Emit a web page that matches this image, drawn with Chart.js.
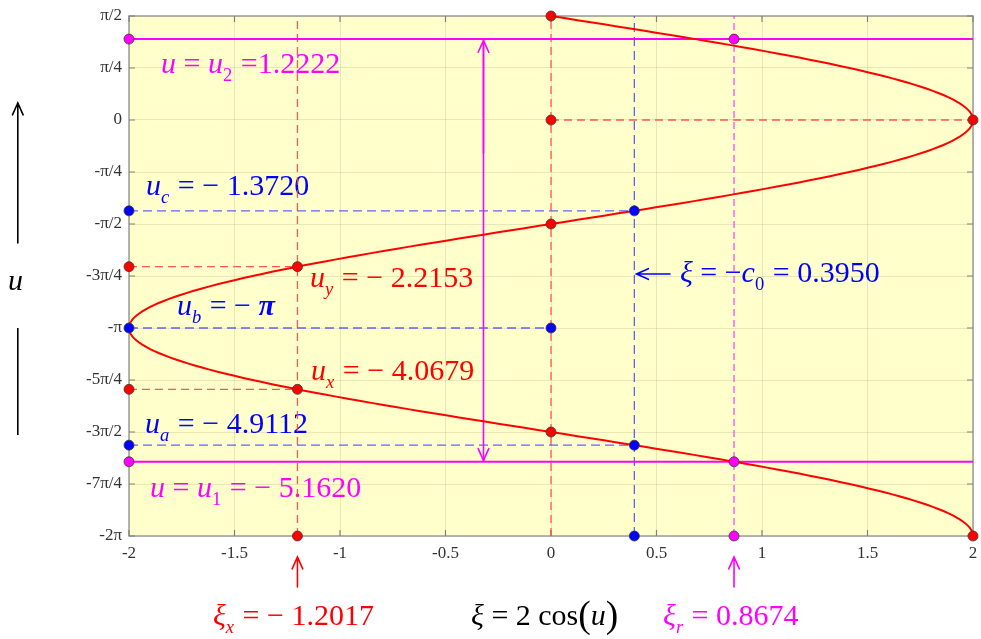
<!DOCTYPE html>
<html>
<head>
<meta charset="utf-8">
<script src="https://cdn.jsdelivr.net/npm/chart.js@4/dist/chart.umd.min.js"></script>
<style>
  html, body { margin: 0; padding: 0; background: #ffffff; }
  #wrap { width: 981px; height: 639px; position: relative; }
</style>
</head>
<body>
<div id="wrap"><canvas id="chart"></canvas></div>
<script>
const PI = Math.PI;

// ---- axis ticks ----
const xTickValues = [-2, -1.5, -1, -0.5, 0, 0.5, 1, 1.5, 2];
const yTickQuarters = [-8, -7, -6, -5, -4, -3, -2, -1, 0, 1, 2];
const yTickLabels = ['-2π', '-7π/4', '-3π/2', '-5π/4', '-π', '-3π/4', '-π/2', '-π/4', '0', 'π/4', 'π/2'];

// ---- key values ----
const xiX = -1.2017;              // ξx
const uY = -2.2153;               // uy
const uX = -4.0679;               // ux
const xiC0 = 0.3950;              // ξ = -c0
const uC = -1.3720;               // uc
const uB = -PI;                   // ub
const uA = -4.9112;               // ua
const xiR = 0.8674;               // ξr
const u2 = 1.2222;                // u2
const u1 = -5.1620;               // u1
const spanArrowXi = -0.32;        // position of the u1..u2 double arrow

// ---- range of u ----
const uMin = -2 * PI, uMax = PI / 2;

// ξ = 2 cos(u), sampled along u
const curveU = [];
for (let k = 0; k <= 250; k++) curveU.push(uMin + (uMax - uMin) * k / 250);
const curvePoints = curveU.map(u => ({ x: 2 * Math.cos(u), y: u }));

// ---- marker points ----
const redPoints = [
  [0, uMax], [0, 0], [2, 0], [0, -PI / 2], [0, -3 * PI / 2], [2, uMin],
  [xiX, uY], [xiX, uX], [-2, uY], [-2, uX], [xiX, uMin]
];
const bluePoints = [
  [-2, uC], [xiC0, uC], [-2, uB], [0, uB], [-2, uA], [xiC0, uA], [xiC0, uMin]
];
const magentaPoints = [
  [-2, u2], [xiR, u2], [-2, u1], [xiR, u1], [xiR, uMin]
];

// ---- guide segments ----
const redDashed = [
  [[0, uMin], [0, uMax]],
  [[0, 0], [2, 0]],
  [[xiX, uMin], [xiX, uMax]],
  [[-2, uY], [xiX, uY]],
  [[-2, uX], [xiX, uX]]
];
const blueDashed = [
  [[xiC0, uMin], [xiC0, uMax]],
  [[-2, uC], [xiC0, uC]],
  [[-2, uA], [xiC0, uA]],
  [[-2, uB], [0, uB]]
];
const magentaDashed = [
  [[xiR, uMin], [xiR, uMax]]
];
const magentaSolid = [
  [[-2, u2], [2, u2]],
  [[-2, u1], [2, u1]]
];

const RED = '#ff0000', BLUE = '#0000ff', MAG = '#ff00ff';

function segSet(seg, color, width, dash, order) {
  return {
    type: 'scatter',
    data: seg.map(p => ({ x: p[0], y: p[1] })),
    showLine: true,
    borderColor: color,
    borderWidth: width,
    borderDash: dash,
    pointRadius: 0,
    pointHoverRadius: 0,
    order: order
  };
}
function pointSet(pts, color) {
  return {
    type: 'scatter',
    data: pts.map(p => ({ x: p[0], y: p[1] })),
    showLine: false,
    backgroundColor: color,
    borderColor: '#3a3a3a',
    pointRadius: 5,
    pointBorderWidth: 0.8,
    pointHoverRadius: 5,
    clip: false,
    order: 0
  };
}

const datasets = [];
datasets.push(pointSet(redPoints, RED));
datasets.push(pointSet(bluePoints, BLUE));
datasets.push(pointSet(magentaPoints, MAG));
datasets.push({
  type: 'scatter', data: curvePoints, showLine: true, borderColor: RED,
  borderWidth: 2, pointRadius: 0, pointHoverRadius: 0, order: 1
});
magentaSolid.forEach(s => datasets.push(segSet(s, MAG, 2, [], 2)));
datasets.push(segSet([[spanArrowXi, u1], [spanArrowXi, u2]], MAG, 1.6, [], 2));
redDashed.forEach(s => datasets.push(segSet(s, 'rgba(255,60,60,0.85)', 1.3, [8, 5], 3)));
blueDashed.forEach(s => datasets.push(segSet(s, 'rgba(70,70,255,0.85)', 1.3, [9, 5], 3)));
magentaDashed.forEach(s => datasets.push(segSet(s, 'rgba(255,40,255,0.9)', 1.2, [7, 4], 3)));

// ---- text annotations (anchor in data coordinates: left edge, baseline) ----
const SERIF = '"Liberation Serif", "Times New Roman", serif';
const labels = [
  { x: -1.848, y: 0.710, color: MAG, parts: [{ t: 'u', i: 1 }, { t: ' = ' }, { t: 'u', i: 1 }, { t: '2', s: 1 }, { t: ' =1.2222' }] },
  { x: -1.919, y: -1.133, color: BLUE, parts: [{ t: 'u', i: 1 }, { t: 'c', i: 1, s: 1 }, { t: ' = − 1.3720' }] },
  { x: -1.142, y: -2.522, color: RED, parts: [{ t: 'u', i: 1 }, { t: 'y', i: 1, s: 1 }, { t: ' = − 2.2153' }] },
  { x: -1.773, y: -2.945, color: BLUE, parts: [{ t: 'u', i: 1 }, { t: 'b', i: 1, s: 1 }, { t: ' = − ' }, { t: 'π', i: 1, b: 1 }] },
  { x: -1.137, y: -3.927, color: RED, parts: [{ t: 'u', i: 1 }, { t: 'x', i: 1, s: 1 }, { t: ' = − 4.0679' }] },
  { x: -1.924, y: -4.727, color: BLUE, parts: [{ t: 'u', i: 1 }, { t: 'a', i: 1, s: 1 }, { t: ' = − 4.9112' }] },
  { x: -1.900, y: -5.694, color: MAG, parts: [{ t: 'u', i: 1 }, { t: ' = ' }, { t: 'u', i: 1 }, { t: '1', s: 1 }, { t: ' = − 5.1620' }] },
  { x: 0.611, y: -2.447, color: BLUE, parts: [{ t: 'ξ', i: 1 }, { t: ' = −' }, { t: 'c', i: 1 }, { t: '0', s: 1 }, { t: ' = 0.3950' }] },
  { x: -1.602, y: -7.627, color: RED, parts: [{ t: 'ξ', i: 1 }, { t: 'x', i: 1, s: 1 }, { t: ' = − 1.2017' }] },
  { x: -0.379, y: -7.627, color: '#000000', parts: [{ t: 'ξ', i: 1 }, { t: ' = 2 cos' }, { t: '(', big: 1 }, { t: 'u', i: 1 }, { t: ')', big: 1 }] },
  { x: 0.531, y: -7.627, color: MAG, parts: [{ t: 'ξ', i: 1 }, { t: 'r', i: 1, s: 1 }, { t: ' = 0.8674' }] },
  { x: -2.573, y: -2.568, color: '#000000', parts: [{ t: 'u', i: 1 }] }
];
// arrows: [x1,y1] -> [x2,y2] in data coordinates, head at the end
const arrows = [
  { from: [0.564, -2.326], to: [xiC0 + 0.01, -2.326], color: BLUE, w: 1.6 },
  { from: [xiX, -7.053], to: [xiX, -6.60], color: RED, w: 1.6 },
  { from: [xiR, -7.053], to: [xiR, -6.60], color: MAG, w: 1.6 },
  { from: [-2.527, -1.858], to: [-2.527, 0.257], color: '#000000', w: 1.6 },
  { from: [spanArrowXi, -0.5], to: [spanArrowXi, u2 - 0.02], color: MAG, w: 1.6 },
  { from: [spanArrowXi, -3], to: [spanArrowXi, u1 + 0.02], color: MAG, w: 1.6, headOnly: true }
];
const plainLines = [
  { from: [-2.527, -3.142], to: [-2.527, -4.758], color: '#000000', w: 1.6 }
];

const FONT_SIZE = 30;

function drawRich(ctx, px, py, parts, color) {
  let cx = px;
  ctx.fillStyle = color;
  ctx.textBaseline = 'alphabetic';
  ctx.textAlign = 'left';
  for (const p of parts) {
    let fs = FONT_SIZE, dy = 0;
    if (p.s) { fs = FONT_SIZE * 0.62; dy = FONT_SIZE * 0.27; }
    if (p.big) { fs = FONT_SIZE * 1.25; dy = FONT_SIZE * 0.06; }
    ctx.font = (p.i ? 'italic ' : '') + (p.b ? 'bold ' : '') + fs + 'px ' + SERIF;
    ctx.fillText(p.t, cx, py + dy);
    cx += ctx.measureText(p.t).width + (p.s ? 1 : 0);
  }
}

function drawArrow(ctx, x1, y1, x2, y2, color, w, headOnly) {
  ctx.save();
  ctx.strokeStyle = color;
  ctx.lineWidth = w;
  ctx.lineCap = 'round';
  ctx.beginPath();
  if (!headOnly) { ctx.moveTo(x1, y1); ctx.lineTo(x2, y2); }
  const a = Math.atan2(y2 - y1, x2 - x1);
  const L = 13, spread = 0.42;
  ctx.moveTo(x2 - L * Math.cos(a - spread), y2 - L * Math.sin(a - spread));
  ctx.lineTo(x2, y2);
  ctx.lineTo(x2 - L * Math.cos(a + spread), y2 - L * Math.sin(a + spread));
  ctx.stroke();
  ctx.restore();
}

const framePlugin = {
  id: 'frame',
  beforeDraw(chart) {
    const { ctx, chartArea: a } = chart;
    ctx.save();
    ctx.fillStyle = '#ffffcc';
    ctx.fillRect(a.left, a.top, a.right - a.left, a.bottom - a.top);
    ctx.restore();
  },
  beforeDatasetsDraw(chart) {
    const { ctx, chartArea: a, scales } = chart;
    const sx = scales.x, sy = scales.y;
    ctx.save();
    // box
    ctx.strokeStyle = '#9a9a9a';
    ctx.lineWidth = 1.5;
    ctx.strokeRect(a.left, a.top, a.right - a.left, a.bottom - a.top);
    // inward tick marks on all four sides
    ctx.strokeStyle = '#808080';
    ctx.lineWidth = 1.2;
    ctx.beginPath();
    const tl = 6;
    xTickValues.forEach(v => {
      const x = sx.getPixelForValue(v);
      ctx.moveTo(x, a.bottom); ctx.lineTo(x, a.bottom - tl);
      ctx.moveTo(x, a.top); ctx.lineTo(x, a.top + tl);
    });
    yTickQuarters.forEach(k => {
      const y = sy.getPixelForValue(k * PI / 4);
      ctx.moveTo(a.left, y); ctx.lineTo(a.left + tl, y);
      ctx.moveTo(a.right, y); ctx.lineTo(a.right - tl, y);
    });
    ctx.stroke();
    // text labels sit underneath the guide lines
    labels.forEach(l => {
      drawRich(ctx, sx.getPixelForValue(l.x), sy.getPixelForValue(l.y), l.parts, l.color);
    });
    ctx.restore();
  },
  afterDatasetsDraw(chart) {
    const { ctx, scales } = chart;
    const sx = scales.x, sy = scales.y;
    arrows.forEach(ar => {
      drawArrow(ctx,
        sx.getPixelForValue(ar.from[0]), sy.getPixelForValue(ar.from[1]),
        sx.getPixelForValue(ar.to[0]), sy.getPixelForValue(ar.to[1]),
        ar.color, ar.w, ar.headOnly);
    });
    plainLines.forEach(ln => {
      ctx.save();
      ctx.strokeStyle = ln.color;
      ctx.lineWidth = ln.w;
      ctx.beginPath();
      ctx.moveTo(sx.getPixelForValue(ln.from[0]), sy.getPixelForValue(ln.from[1]));
      ctx.lineTo(sx.getPixelForValue(ln.to[0]), sy.getPixelForValue(ln.to[1]));
      ctx.stroke();
      ctx.restore();
    });
  }
};

const tickFont = { family: SERIF, size: 17 };

new Chart(document.getElementById('chart'), {
  type: 'scatter',
  data: { datasets },
  options: {
    responsive: true,
    maintainAspectRatio: false,
    animation: false,
    events: [],
    layout: { padding: { left: 0, right: 8, top: 16, bottom: 0 } },
    plugins: { legend: { display: false }, tooltip: { enabled: false } },
    scales: {
      x: {
        type: 'linear', position: 'bottom', min: -2, max: 2,
        afterBuildTicks(s) { s.ticks = xTickValues.map(v => ({ value: v })); },
        ticks: { font: tickFont, color: '#333333', padding: 7, maxRotation: 0,
                 callback: v => String(v) },
        grid: { color: 'rgba(120,110,60,0.16)', lineWidth: 1, drawTicks: false },
        border: { display: false },
        afterFit(s) { s.height = 103; s.paddingLeft = 0; s.paddingRight = 0; }
      },
      y: {
        type: 'linear', position: 'left', min: uMin, max: uMax,
        afterBuildTicks(s) { s.ticks = yTickQuarters.map(k => ({ value: k * PI / 4 })); },
        ticks: { font: tickFont, color: '#333333', padding: 7,
                 callback: v => yTickLabels[yTickQuarters.indexOf(Math.round(v / (PI / 4)))] },
        grid: { color: 'rgba(120,110,60,0.16)', lineWidth: 1, drawTicks: false },
        border: { display: false },
        afterFit(s) { s.width = 129; s.paddingTop = 0; s.paddingBottom = 0; }
      }
    }
  },
  plugins: [framePlugin]
});
</script>
</body>
</html>
